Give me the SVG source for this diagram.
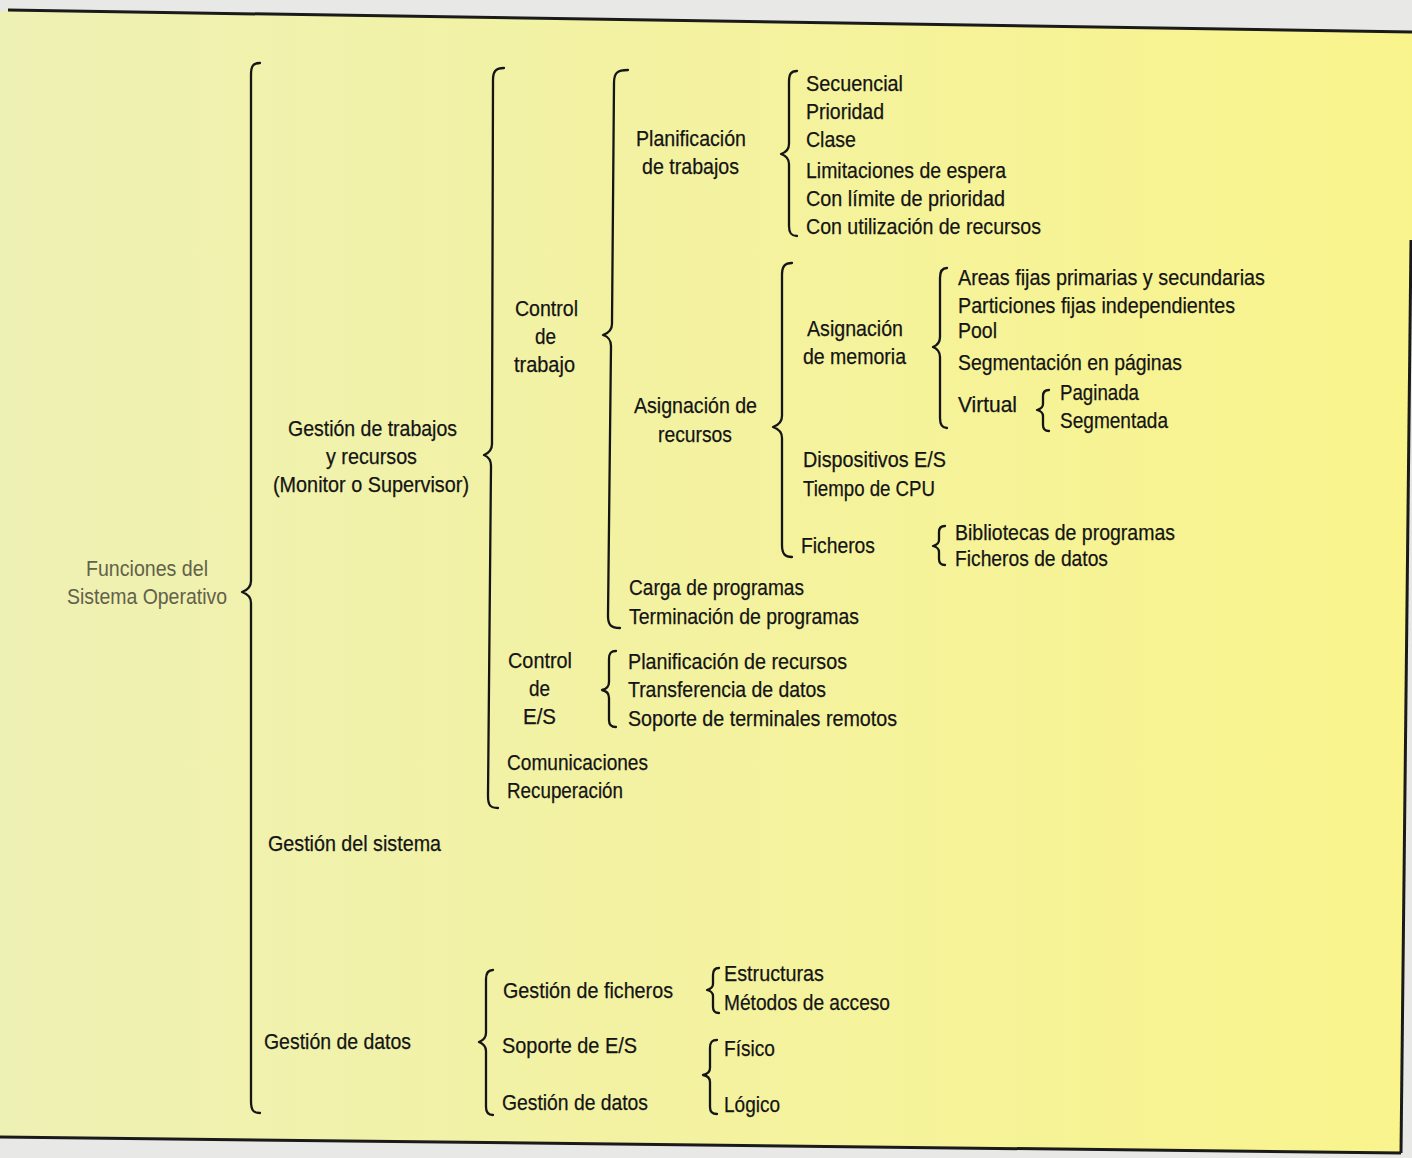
<svg xmlns="http://www.w3.org/2000/svg" width="1412" height="1158" viewBox="0 0 1412 1158">
<defs>
<linearGradient id="yel" x1="0" y1="0" x2="1" y2="0">
<stop offset="0" stop-color="#eef1b4"/>
<stop offset="0.45" stop-color="#f3f2a2"/>
<stop offset="1" stop-color="#f9f48c"/>
</linearGradient>
<style>
.t{font-family:"Liberation Sans",Arial,sans-serif;font-size:22px;fill:#141414;stroke:#141414;stroke-width:0.25}
.g{font-family:"Liberation Sans",Arial,sans-serif;font-size:22px;fill:#62614a}
.b{fill:none;stroke:#151515;stroke-width:2.3;stroke-linecap:round;stroke-linejoin:round}
.frame{fill:none;stroke:#1a1a1a;stroke-width:3}
</style>
</defs>
<rect x="0" y="0" width="1412" height="1158" fill="#e8e8e6"/>
<polygon points="8,10 1412,32 1412,240 1401,1153 0,1137 0,12" fill="url(#yel)"/>
<g id="frame">
<line class="frame" x1="8" y1="10" x2="1412" y2="32"/>
<line class="frame" x1="1411" y1="240" x2="1401" y2="1153"/>
<line class="frame" x1="0" y1="1137" x2="1401" y2="1153"/>
</g>
<g id="connectors">
<path id="b1" class="b" d="M260,63 C253,63 251,66 251,75 L251,581 C251,587 248,590 242,592 C248,594 251,597 251,603 L251,1101 C251,1110 253,1113 260,1113"/>
<path id="b2" class="b" d="M504,68 C496,68 493,71 493,80 L492,444 C492,450 489,453 484,455 C489,457 491,460 491,466 L488,796 C488,805 490,808 498,808"/>
<path id="b3" class="b" d="M628,70 C617,70 614,73 614,83 L612,324 C612,330 609,333 603,335 C609,337 611,340 611,346 L608,616 C608,625 611,628 620,628"/>
<path id="b4" class="b" d="M797,71 C791,71 789,74 789,82 L789,144 C789,149 787,152 781,154 C787,156 789,159 789,164 L789,226 C789,233 791,236 797,236"/>
<path id="b5" class="b" d="M792,263 C785,263 782,266 782,275 L782,416 C782,422 779,425 773,427 C779,429 782,432 782,438 L782,545 C782,554 785,557 792,557"/>
<path id="b6" class="b" d="M947,268 C942,268 940,271 940,278 L940,337 C940,342 938,345 933,347 C938,349 940,352 940,357 L940,418 C940,425 942,428 947,428"/>
<path id="b7" class="b" d="M1049,390 C1045,390 1043,392 1043,396 L1043,404 C1043,407 1041,409 1037,410 C1041,411 1043,413 1043,416 L1043,425 C1043,429 1045,431 1049,431"/>
<path id="b8" class="b" d="M945,526 C941,526 939,528 939,532 L939,540 C939,543 937,545 933,546 C937,547 939,549 939,552 L939,559 C939,563 941,565 945,565"/>
<path id="b9" class="b" d="M616,651 C611,651 609,653 609,659 L609,682 C609,686 607,689 602,690 C607,691 609,694 609,698 L609,720 C609,725 611,727 616,727"/>
<path id="b10" class="b" d="M493,970 C488,970 486,973 486,979 L486,1033 C486,1037 484,1040 479,1042 C484,1044 486,1047 486,1051 L486,1107 C486,1112 488,1115 493,1115"/>
<path id="b11" class="b" d="M719,968 C715,968 713,970 713,975 L713,984 C713,987 711,989 707,990 C711,991 713,993 713,996 L713,1007 C713,1011 715,1013 719,1013"/>
<path id="b12" class="b" d="M717,1040 C712,1040 710,1042 710,1048 L710,1068 C710,1072 708,1074 703,1075 C708,1076 710,1078 710,1082 L710,1107 C710,1112 712,1114 717,1114"/>
</g>
<g id="n-root">
<text class="g" x="86" y="576" textLength="122" lengthAdjust="spacingAndGlyphs">Funciones del</text>
<text class="g" x="67" y="604" textLength="160" lengthAdjust="spacingAndGlyphs">Sistema Operativo</text>
</g>
<g id="n-gestion-trabajos">
<text class="t" x="288" y="436" textLength="169" lengthAdjust="spacingAndGlyphs">Gestión de trabajos</text>
<text class="t" x="326" y="464" textLength="91" lengthAdjust="spacingAndGlyphs">y recursos</text>
<text class="t" x="273" y="492" textLength="196" lengthAdjust="spacingAndGlyphs">(Monitor o Supervisor)</text>
</g>
<g id="n-gestion-sistema">
<text class="t" x="268" y="851" textLength="173" lengthAdjust="spacingAndGlyphs">Gestión del sistema</text>
</g>
<g id="n-gestion-datos">
<text class="t" x="264" y="1049" textLength="147" lengthAdjust="spacingAndGlyphs">Gestión de datos</text>
</g>
<g id="n-control-trabajo">
<text class="t" x="515" y="316" textLength="63" lengthAdjust="spacingAndGlyphs">Control</text>
<text class="t" x="535" y="344" textLength="21" lengthAdjust="spacingAndGlyphs">de</text>
<text class="t" x="514" y="372" textLength="61" lengthAdjust="spacingAndGlyphs">trabajo</text>
</g>
<g id="n-control-es">
<text class="t" x="508" y="668" textLength="64" lengthAdjust="spacingAndGlyphs">Control</text>
<text class="t" x="529" y="696" textLength="21" lengthAdjust="spacingAndGlyphs">de</text>
<text class="t" x="523" y="724" textLength="33" lengthAdjust="spacingAndGlyphs">E/S</text>
</g>
<g id="n-comunicaciones">
<text class="t" x="507" y="770" textLength="141" lengthAdjust="spacingAndGlyphs">Comunicaciones</text>
</g>
<g id="n-recuperacion">
<text class="t" x="507" y="798" textLength="116" lengthAdjust="spacingAndGlyphs">Recuperación</text>
</g>
<g id="n-planif-trabajos">
<text class="t" x="636" y="146" textLength="110" lengthAdjust="spacingAndGlyphs">Planificación</text>
<text class="t" x="642" y="174" textLength="97" lengthAdjust="spacingAndGlyphs">de trabajos</text>
</g>
<g id="n-planif-list">
<text class="t" x="806" y="91" textLength="97" lengthAdjust="spacingAndGlyphs">Secuencial</text>
<text class="t" x="806" y="119" textLength="78" lengthAdjust="spacingAndGlyphs">Prioridad</text>
<text class="t" x="806" y="147" textLength="50" lengthAdjust="spacingAndGlyphs">Clase</text>
<text class="t" x="806" y="178" textLength="200" lengthAdjust="spacingAndGlyphs">Limitaciones de espera</text>
<text class="t" x="806" y="206" textLength="199" lengthAdjust="spacingAndGlyphs">Con límite de prioridad</text>
<text class="t" x="806" y="234" textLength="235" lengthAdjust="spacingAndGlyphs">Con utilización de recursos</text>
</g>
<g id="n-asign-recursos">
<text class="t" x="634" y="413" textLength="123" lengthAdjust="spacingAndGlyphs">Asignación de</text>
<text class="t" x="658" y="442" textLength="74" lengthAdjust="spacingAndGlyphs">recursos</text>
</g>
<g id="n-asign-memoria">
<text class="t" x="807" y="336" textLength="96" lengthAdjust="spacingAndGlyphs">Asignación</text>
<text class="t" x="803" y="364" textLength="103" lengthAdjust="spacingAndGlyphs">de memoria</text>
</g>
<g id="n-memoria-list">
<text class="t" x="958" y="285" textLength="307" lengthAdjust="spacingAndGlyphs">Areas fijas primarias y secundarias</text>
<text class="t" x="958" y="313" textLength="277" lengthAdjust="spacingAndGlyphs">Particiones fijas independientes</text>
<text class="t" x="958" y="338" textLength="39" lengthAdjust="spacingAndGlyphs">Pool</text>
<text class="t" x="958" y="370" textLength="224" lengthAdjust="spacingAndGlyphs">Segmentación en páginas</text>
<text class="t" x="958" y="412" textLength="59" lengthAdjust="spacingAndGlyphs">Virtual</text>
</g>
<g id="n-virtual-list">
<text class="t" x="1060" y="400" textLength="79" lengthAdjust="spacingAndGlyphs">Paginada</text>
<text class="t" x="1060" y="428" textLength="108" lengthAdjust="spacingAndGlyphs">Segmentada</text>
</g>
<g id="n-dispositivos">
<text class="t" x="803" y="467" textLength="143" lengthAdjust="spacingAndGlyphs">Dispositivos E/S</text>
</g>
<g id="n-cpu">
<text class="t" x="803" y="496" textLength="132" lengthAdjust="spacingAndGlyphs">Tiempo de CPU</text>
</g>
<g id="n-ficheros">
<text class="t" x="801" y="553" textLength="74" lengthAdjust="spacingAndGlyphs">Ficheros</text>
</g>
<g id="n-ficheros-list">
<text class="t" x="955" y="540" textLength="220" lengthAdjust="spacingAndGlyphs">Bibliotecas de programas</text>
<text class="t" x="955" y="566" textLength="153" lengthAdjust="spacingAndGlyphs">Ficheros de datos</text>
</g>
<g id="n-carga">
<text class="t" x="629" y="595" textLength="175" lengthAdjust="spacingAndGlyphs">Carga de programas</text>
</g>
<g id="n-terminacion">
<text class="t" x="629" y="624" textLength="230" lengthAdjust="spacingAndGlyphs">Terminación de programas</text>
</g>
<g id="n-es-list">
<text class="t" x="628" y="669" textLength="219" lengthAdjust="spacingAndGlyphs">Planificación de recursos</text>
<text class="t" x="628" y="697" textLength="198" lengthAdjust="spacingAndGlyphs">Transferencia de datos</text>
<text class="t" x="628" y="726" textLength="269" lengthAdjust="spacingAndGlyphs">Soporte de terminales remotos</text>
</g>
<g id="n-gestion-ficheros">
<text class="t" x="503" y="998" textLength="170" lengthAdjust="spacingAndGlyphs">Gestión de ficheros</text>
</g>
<g id="n-soporte-es">
<text class="t" x="502" y="1053" textLength="135" lengthAdjust="spacingAndGlyphs">Soporte de E/S</text>
</g>
<g id="n-gestion-datos-2">
<text class="t" x="502" y="1110" textLength="146" lengthAdjust="spacingAndGlyphs">Gestión de datos</text>
</g>
<g id="n-ficheros-sub">
<text class="t" x="724" y="981" textLength="100" lengthAdjust="spacingAndGlyphs">Estructuras</text>
<text class="t" x="724" y="1010" textLength="166" lengthAdjust="spacingAndGlyphs">Métodos de acceso</text>
</g>
<g id="n-fisico">
<text class="t" x="724" y="1056" textLength="51" lengthAdjust="spacingAndGlyphs">Físico</text>
</g>
<g id="n-logico">
<text class="t" x="724" y="1112" textLength="56" lengthAdjust="spacingAndGlyphs">Lógico</text>
</g>
</svg>
